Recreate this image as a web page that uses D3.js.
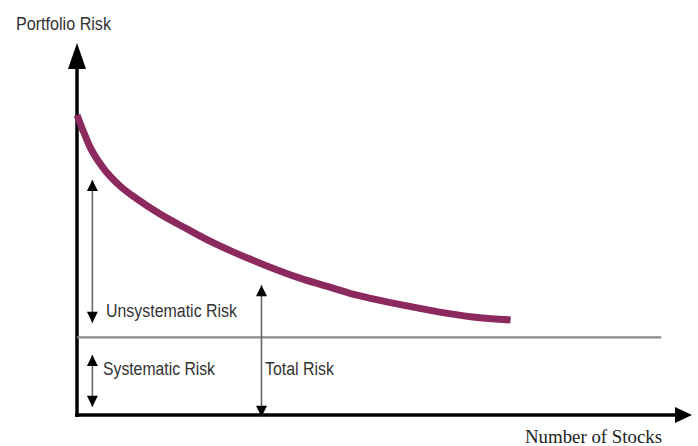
<!DOCTYPE html>
<html>
<head>
<meta charset="utf-8">
<script src="https://cdn.jsdelivr.net/npm/d3@7"></script>
<style>
  html, body { margin: 0; padding: 0; background: #ffffff; }
  svg { display: block; }
</style>
</head>
<body>
<svg id="chart" width="698" height="446"></svg>
<script>
// ---- data (arbitrary units) ----
const numberOfStocks = [0, 0.4, 0.85, 1.7, 2.8, 3.9, 5.4, 7.15, 8.65, 10.15, 12.35, 14.5, 16.65, 18.2, 19.25, 21.45, 23.6, 25.75, 28.2];
const totalRisk      = [81.1, 76.8, 72.4, 66.8, 61.9, 58.4, 54.3, 50.3, 47.0, 44.1, 40.3, 37.0, 34.3, 32.4, 31.4, 29.5, 27.8, 26.5, 25.7];
const systematicRisk = 21;
const xDomain = [0, 40];
const yDomain = [0, 100];
const labels = {
  yTitle: "Portfolio Risk",
  xTitle: "Number of Stocks",
  unsystematic: "Unsystematic Risk",
  systematic: "Systematic Risk",
  total: "Total Risk"
};
// arrows: x position (stocks), from risk, to risk
const unsysArrow = { x: 1.0, y0: 24.9, y1: 63.5 };
const sysArrow   = { x: 1.0, y0: 2.2, y1: 16.2 };
const totalArrow = { x: 12, y0: -0.5, y1: 35.1 };

// ---- layout ----
const svg = d3.select("#chart");
const x = d3.scaleLinear().domain(xDomain).range([77, 692]);
const y = d3.scaleLinear().domain(yDomain).range([415, 45]);

const defs = svg.append("defs");
defs.append("marker")
  .attr("id", "headBoth")
  .attr("viewBox", "0 0 10 10")
  .attr("refX", 10).attr("refY", 5)
  .attr("markerUnits", "userSpaceOnUse")
  .attr("markerWidth", 14).attr("markerHeight", 11)
  .attr("orient", "auto-start-reverse")
  .append("path").attr("d", "M0,0 L10,5 L0,10 Z").attr("fill", "#000");

// big axes with arrow heads
function bigLine(x1, y1, x2, y2) {
  svg.append("line")
    .attr("x1", x1).attr("y1", y1).attr("x2", x2).attr("y2", y2)
    .attr("stroke", "#000").attr("stroke-width", 3.5);
}
// y axis
bigLine(x(0), y(0) + 2, x(0), y(yDomain[1]) + 20);
svg.append("path")
  .attr("d", `M${x(0)},${y(yDomain[1]) - 2} L${x(0) - 9},${y(yDomain[1]) + 24} L${x(0) + 9},${y(yDomain[1]) + 24} Z`)
  .attr("fill", "#000");
// x axis
bigLine(x(0) - 2, y(0), x(xDomain[1]) - 14, y(0));
svg.append("path")
  .attr("d", `M${x(xDomain[1])},${y(0)} L${x(xDomain[1]) - 17},${y(0) - 8} L${x(xDomain[1]) - 17},${y(0) + 8} Z`)
  .attr("fill", "#000");

// systematic risk level line
svg.append("line")
  .attr("x1", x(0)).attr("x2", x(38))
  .attr("y1", y(systematicRisk)).attr("y2", y(systematicRisk))
  .attr("stroke", "#8a8a8a").attr("stroke-width", 2.2);

// total risk curve
const pts = numberOfStocks.map((d, i) => [d, totalRisk[i]]);
const line = d3.line().x(d => x(d[0])).y(d => y(d[1])).curve(d3.curveMonotoneX);
svg.append("path")
  .datum(pts)
  .attr("d", line)
  .attr("fill", "none")
  .attr("stroke", "#8c2a5f")
  .attr("stroke-width", 7)
  .attr("stroke-linecap", "butt");

// double-headed arrows
function dblArrow(a) {
  svg.append("line")
    .attr("x1", x(a.x)).attr("x2", x(a.x))
    .attr("y1", y(a.y0)).attr("y2", y(a.y1))
    .attr("stroke", "#666").attr("stroke-width", 1.6)
    .attr("marker-start", "url(#headBoth)")
    .attr("marker-end", "url(#headBoth)");
}
dblArrow(unsysArrow);
dblArrow(sysArrow);
dblArrow(totalArrow);

// texts
const sans = "'Liberation Sans', Arial, sans-serif";
function label(txt, px, py, size, len, family, color) {
  svg.append("text").attr("x", px).attr("y", py)
    .attr("font-family", family).attr("font-size", size).attr("fill", color)
    .attr("textLength", len).attr("lengthAdjust", "spacingAndGlyphs")
    .text(txt);
}
label(labels.yTitle, 16, 30, 19, 95, sans, "#333");
label(labels.xTitle, 525, 443, 19, 137, "'Liberation Serif', 'Times New Roman', serif", "#222");
label(labels.unsystematic, 106, 317, 18, 131, sans, "#333");
label(labels.systematic, 103, 375, 18, 112, sans, "#333");
label(labels.total, 265, 375, 18, 69, sans, "#333");
</script>
</body>
</html>
